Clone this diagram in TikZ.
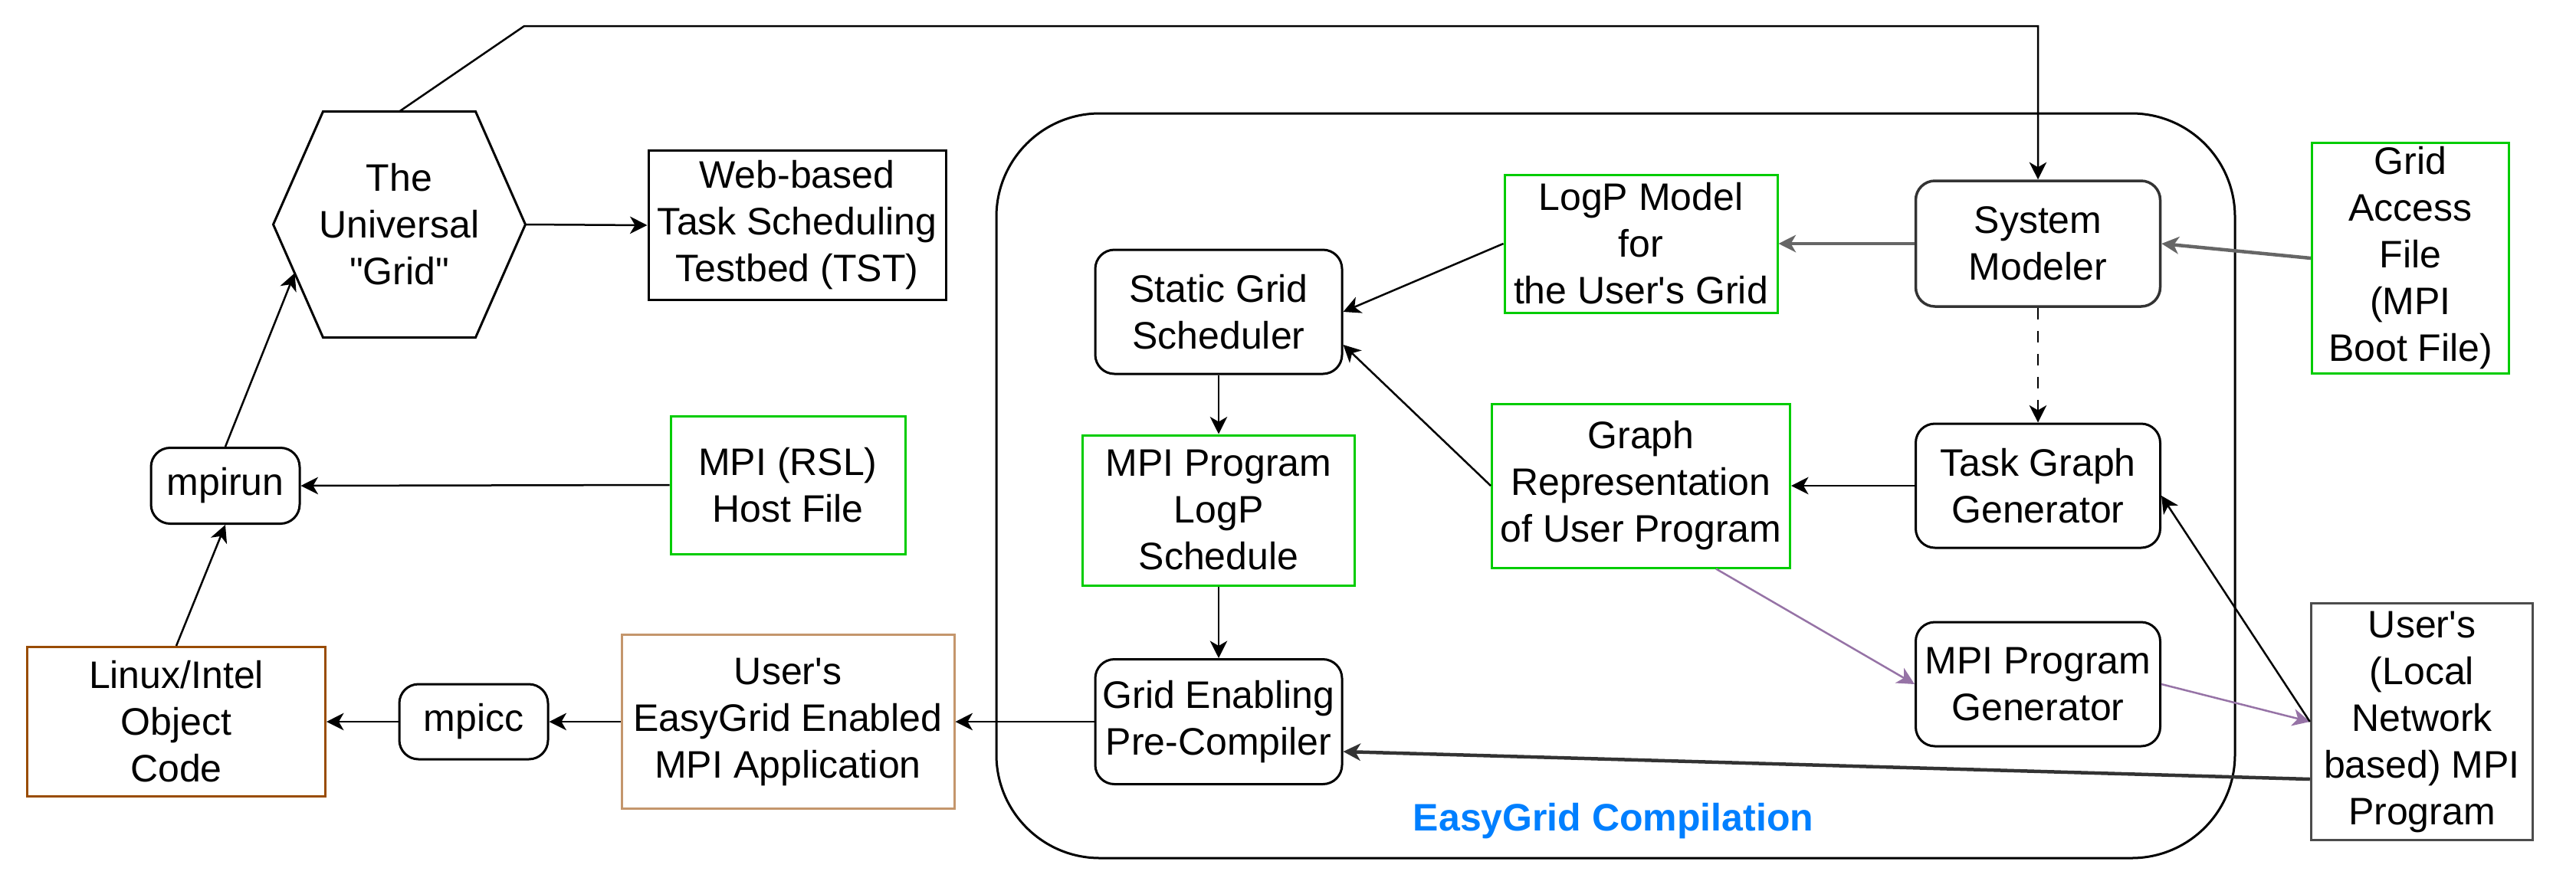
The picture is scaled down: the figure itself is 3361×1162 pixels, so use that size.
\documentclass[tikz,border=0pt]{standalone}
\usepackage{fontspec}
\usepackage{tikz}
\usetikzlibrary{arrows.meta, calc}
\newfontfamily\diafont{Liberation Sans}
\definecolor{filec}{RGB}{0,204,0}
\definecolor{objc}{RGB}{153,76,0}
\definecolor{appc}{RGB}{196,150,108}
\definecolor{genc}{RGB}{150,115,166}
\definecolor{titlec}{RGB}{0,127,255}

\begin{document}
\begin{tikzpicture}[x=0.2pt, y=-0.2pt,
    font=\diafont\fontsize{10}{12.2}\selectfont,
    base/.style={align=center, inner sep=0pt, line width=0.6pt},
    box/.style={base, draw},
    rbox/.style={base, draw, rounded corners=5pt},
    file/.style={base, draw=filec},
    obj/.style={base, draw=objc},
    conn/.style={-{Stealth[length=4.5pt, width=4.5pt, inset=1.3pt]}, line width=0.5pt},
    gconn/.style={conn, black!60, line width=0.9pt},
    pconn/.style={conn, genc},
    dconn/.style={conn, dashed}]
  \useasboundingbox (0,0) rectangle (3361,1162);

  % left part: grid, testbed, run and compile chain
  \node[base, minimum width=65.2pt, minimum height=58.4pt] (grid) at (521,293)
    {The\\Universal\\"Grid"};
  \draw[line width=0.6pt] (grid.west) -- ([xshift=13pt]grid.north west)
    -- ([xshift=-13pt]grid.north east) -- (grid.east)
    -- ([xshift=-13pt]grid.south east) -- ([xshift=13pt]grid.south west) -- cycle;
  \coordinate (gridin) at ($(grid.west)!0.43!([xshift=13pt]grid.south west)$);
  \node[box, minimum width=77.6pt, minimum height=39pt] (tst) at (1040,294)
    {Web-based\\Task Scheduling\\Testbed (TST)};
  \node[rbox, minimum width=38.8pt, minimum height=19.8pt] (mpirun) at (294,634) {mpirun};
  \node[file, minimum width=61.2pt, minimum height=36pt] (hostfile) at (1028,633)
    {MPI (RSL)\\Host File};
  \node[obj, minimum width=77.8pt, minimum height=39pt] (linux) at (230,942)
    {Linux/Intel\\Object\\Code};
  \node[rbox, minimum width=38.8pt, minimum height=19.6pt] (mpicc) at (618,942) {mpicc};
  \node[base, draw=appc, minimum width=86.8pt, minimum height=45.4pt] (egapp) at (1028,942)
    {User's\\EasyGrid Enabled\\MPI Application};

  % EasyGrid compilation block
  \draw[line width=0.6pt, rounded corners=27pt] (1300,148) rectangle (2916,1120);
  \node[font=\diafont\bfseries\fontsize{10}{12.2}\selectfont, text=titlec] (cmp) at (2105,1072)
    {EasyGrid Compilation};
  \node[rbox, minimum width=64.4pt, minimum height=32.4pt] (sched) at (1590,407)
    {Static Grid\\Scheduler};
  \node[file, minimum width=71.2pt, minimum height=36pt] (logp) at (2141,318)
    {LogP Model\\for\\the User's Grid};
  \node[rbox, draw=black!80, line width=0.7pt, minimum width=63.8pt, minimum height=32.8pt]
    (sysmod) at (2659,318) {System\\Modeler};
  \node[rbox, minimum width=63.8pt, minimum height=32.4pt] (tgg) at (2659,634)
    {Task Graph\\Generator};
  \node[file, minimum width=77.8pt, minimum height=42.8pt] (grep) at (2141,634)
    {Graph\\Representation\\of User Program};
  \node[file, minimum width=71pt, minimum height=39.2pt] (sched2) at (1590,666)
    {MPI Program\\LogP\\Schedule};
  \node[rbox, minimum width=64.4pt, minimum height=32.6pt] (gepc) at (1590,942)
    {Grid Enabling\\Pre-Compiler};
  \node[rbox, minimum width=63.8pt, minimum height=32.4pt] (mpg) at (2659,893)
    {MPI Program\\Generator};

  % inputs on the right
  \node[file, minimum width=51.4pt, minimum height=60.2pt] (gaf) at (3145,337)
    {Grid\\Access\\File\\(MPI\\Boot File)};
  \node[base, draw=black!70, line width=0.7pt, minimum width=57.8pt, minimum height=61.8pt]
    (userprog) at (3160,942) {User's\\(Local\\Network\\based) MPI\\Program};

  % connectors
  \coordinate (topbend) at (684,34);
  \draw[conn] (grid.north) -- (topbend) -| (sysmod.north);
  \draw[conn] (grid.east) -- (tst.west);
  \draw[conn] (mpirun.north) -- (gridin);
  \draw[conn] (linux.north) -- (mpirun.south);
  \draw[conn] (hostfile.west) -- (mpirun.east);
  \draw[conn] (egapp.west) -- (mpicc.east);
  \draw[conn] (mpicc.west) -- (linux.east);
  \draw[conn] (gepc.west) -- (egapp.east);
  \draw[conn] (sched.south) -- (sched2.north);
  \draw[conn] (sched2.south) -- (gepc.north);
  \draw[conn] (logp.west) -- (sched.east);
  \draw[gconn] (sysmod.west) -- (logp.east);
  \draw[gconn] (gaf.west) -- (sysmod.east);
  \draw[dconn] (sysmod.south) -- (tgg.north);
  \draw[conn] (tgg.west) -- (grep.east);
  \draw[conn] (grep.west) -- ([yshift=-8.6pt]sched.east);
  \draw[pconn] ([xshift=19.6pt]grep.south) -- (mpg.west);
  \draw[pconn] (mpg.east) -- (userprog.west);
  \draw[conn] (userprog.west) -- ([yshift=-2.6pt]tgg.east);
  \draw[gconn, black!80] ([yshift=-15pt]userprog.west) -- ([yshift=-7.8pt]gepc.east);
\end{tikzpicture}
\end{document}
